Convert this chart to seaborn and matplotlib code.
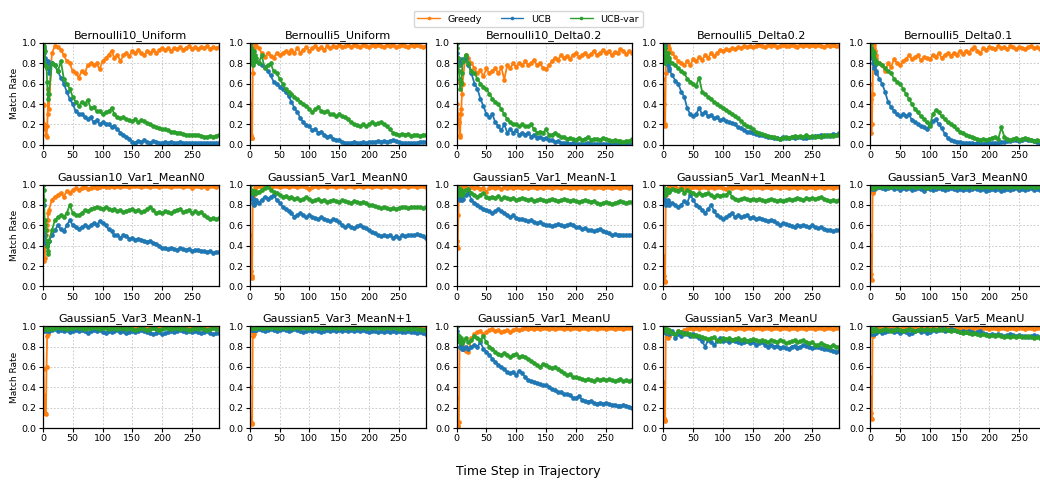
import numpy as np
import pandas as pd
import matplotlib
matplotlib.use("Agg")
import matplotlib.pyplot as plt
import seaborn as sns

# time steps: every step for the first 10, then every 5 steps
steps = list(range(0, 10)) + list(range(10, 296, 5))

methods = ["Greedy", "UCB", "UCB-var"]
colors = ["#ff7f0e", "#1f77b4", "#2ca02c"]

titles = ["Bernoulli10_Uniform", "Bernoulli5_Uniform", "Bernoulli10_Delta0.2",
          "Bernoulli5_Delta0.2", "Bernoulli5_Delta0.1",
          "Gaussian10_Var1_MeanN0", "Gaussian5_Var1_MeanN0", "Gaussian5_Var1_MeanN-1",
          "Gaussian5_Var1_MeanN+1", "Gaussian5_Var3_MeanN0",
          "Gaussian5_Var3_MeanN-1", "Gaussian5_Var3_MeanN+1", "Gaussian5_Var1_MeanU",
          "Gaussian5_Var3_MeanU", "Gaussian5_Var5_MeanU"]

# ---------------- Bernoulli10_Uniform ----------------
b10u_greedy = [0.40, 0.39, 0.20, 0.15, 0.18, 0.10, 0.08, 0.18, 0.30, 0.55,
               0.35, 0.90, 0.97, 0.96, 0.93, 0.88, 0.82, 0.80, 0.72, 0.70,
               0.66, 0.72, 0.70, 0.78, 0.80, 0.78, 0.80, 0.74, 0.82, 0.85,
               0.88, 0.92, 0.85, 0.88, 0.82, 0.88, 0.90, 0.87, 0.92, 0.90,
               0.93, 0.90, 0.88, 0.92, 0.90, 0.93, 0.90, 0.93, 0.95, 0.93,
               0.95, 0.92, 0.95, 0.94, 0.96, 0.93, 0.95, 0.97, 0.94, 0.96,
               0.94, 0.96, 0.95, 0.97, 0.94, 0.96, 0.95, 0.96]
b10u_ucb = [1.00, 0.95, 0.90, 0.85, 0.80, 0.82, 0.78, 0.75, 0.80, 0.82,
            0.70, 0.80, 0.78, 0.72, 0.66, 0.60, 0.52, 0.45, 0.40, 0.33,
            0.30, 0.30, 0.27, 0.25, 0.27, 0.22, 0.24, 0.20, 0.22, 0.20,
            0.20, 0.17, 0.18, 0.15, 0.12, 0.10, 0.08, 0.06, 0.03, 0.02,
            0.04, 0.03, 0.05, 0.03, 0.02, 0.04, 0.03, 0.02, 0.02, 0.03,
            0.02, 0.03, 0.02, 0.02, 0.03, 0.02, 0.02, 0.02, 0.02, 0.02,
            0.02, 0.02, 0.02, 0.02, 0.02, 0.02, 0.02, 0.02]
b10u_ucbvar = [1.00, 0.97, 0.93, 0.92, 0.78, 0.77, 0.76, 0.62, 0.50, 0.45,
               0.50, 0.80, 0.78, 0.72, 0.82, 0.65, 0.60, 0.55, 0.47, 0.42,
               0.38, 0.42, 0.40, 0.44, 0.36, 0.37, 0.33, 0.33, 0.30, 0.32,
               0.33, 0.36, 0.30, 0.27, 0.26, 0.27, 0.25, 0.24, 0.23, 0.25,
               0.22, 0.24, 0.23, 0.21, 0.20, 0.18, 0.17, 0.16, 0.15, 0.15,
               0.14, 0.13, 0.13, 0.12, 0.12, 0.11, 0.10, 0.10, 0.10, 0.10,
               0.10, 0.09, 0.08, 0.08, 0.09, 0.08, 0.09, 0.10]

# ---------------- Bernoulli5_Uniform ----------------
b5u_greedy = [0.80, 0.40, 0.10, 0.07, 0.07, 0.70, 0.90, 0.95, 1.00, 0.98,
              0.97, 0.95, 0.90, 0.86, 0.90, 0.87, 0.85, 0.90, 0.88, 0.90,
              0.92, 0.90, 0.93, 0.90, 0.95, 0.90, 0.93, 0.96, 0.92, 0.95,
              0.97, 0.94, 0.96, 0.93, 0.97, 0.95, 0.97, 0.96, 0.98, 0.96,
              0.97, 0.98, 0.96, 0.98, 0.97, 0.96, 0.98, 0.97, 0.96, 0.98,
              0.97, 0.98, 0.97, 0.96, 0.98, 0.97, 0.98, 0.96, 0.97, 0.98,
              0.97, 0.96, 0.98, 0.97, 0.98, 0.97, 0.96, 0.97]
b5u_ucb = [1.00, 0.98, 0.95, 0.92, 0.90, 0.88, 0.86, 0.85, 0.83, 0.85,
           0.82, 0.80, 0.78, 0.76, 0.72, 0.68, 0.62, 0.60, 0.57, 0.55,
           0.52, 0.48, 0.42, 0.36, 0.32, 0.26, 0.22, 0.19, 0.18, 0.14,
           0.15, 0.12, 0.13, 0.10, 0.08, 0.09, 0.06, 0.05, 0.05, 0.03,
           0.02, 0.02, 0.02, 0.03, 0.02, 0.02, 0.03, 0.02, 0.03, 0.03,
           0.03, 0.04, 0.03, 0.04, 0.03, 0.04, 0.05, 0.04, 0.03, 0.02,
           0.02, 0.02, 0.02, 0.02, 0.02, 0.03, 0.03, 0.03]
b5u_ucbvar = [1.00, 1.00, 0.95, 0.80, 0.90, 0.78, 0.80, 0.92, 0.88, 0.82,
              0.85, 0.80, 0.88, 0.75, 0.78, 0.80, 0.72, 0.70, 0.65, 0.60,
              0.55, 0.52, 0.50, 0.47, 0.45, 0.42, 0.40, 0.38, 0.35, 0.32,
              0.35, 0.37, 0.33, 0.32, 0.33, 0.30, 0.30, 0.28, 0.30, 0.28,
              0.27, 0.25, 0.22, 0.20, 0.19, 0.18, 0.20, 0.18, 0.20, 0.22,
              0.20, 0.21, 0.22, 0.20, 0.18, 0.15, 0.12, 0.11, 0.10, 0.11,
              0.10, 0.11, 0.09, 0.10, 0.10, 0.09, 0.10, 0.10]

# ---------------- Bernoulli10_Delta0.2 ----------------
b10d2_greedy = [0.62, 0.40, 0.30, 0.25, 0.22, 0.08, 0.10, 0.30, 0.35, 0.50,
                0.60, 0.88, 0.85, 0.80, 0.75, 0.70, 0.73, 0.67, 0.75, 0.70,
                0.72, 0.75, 0.70, 0.76, 0.64, 0.78, 0.75, 0.80, 0.76, 0.80,
                0.78, 0.82, 0.78, 0.80, 0.83, 0.78, 0.80, 0.75, 0.74, 0.78,
                0.82, 0.85, 0.83, 0.88, 0.85, 0.87, 0.84, 0.88, 0.90, 0.86,
                0.88, 0.90, 0.87, 0.89, 0.92, 0.88, 0.90, 0.93, 0.90, 0.92,
                0.88, 0.91, 0.90, 0.94, 0.92, 0.89, 0.92, 0.90]
b10d2_ucb = [1.00, 0.90, 0.85, 0.82, 0.80, 0.82, 0.78, 0.80, 0.82, 0.84,
             0.82, 0.85, 0.78, 0.70, 0.60, 0.55, 0.45, 0.38, 0.30, 0.27,
             0.30, 0.22, 0.18, 0.14, 0.20, 0.12, 0.15, 0.12, 0.14, 0.10,
             0.12, 0.10, 0.12, 0.08, 0.10, 0.07, 0.08, 0.06, 0.07, 0.05,
             0.05, 0.03, 0.04, 0.02, 0.02, 0.02, 0.01, 0.02, 0.01, 0.01,
             0.01, 0.01, 0.02, 0.01, 0.01, 0.01, 0.01, 0.01, 0.01, 0.01,
             0.01, 0.01, 0.01, 0.01, 0.01, 0.01, 0.01, 0.01]
b10d2_ucbvar = [1.00, 0.95, 0.85, 0.78, 0.72, 0.65, 0.55, 0.60, 0.62, 0.70,
                0.82, 0.88, 0.80, 0.72, 0.70, 0.65, 0.60, 0.57, 0.55, 0.50,
                0.45, 0.42, 0.40, 0.35, 0.30, 0.25, 0.22, 0.20, 0.20, 0.18,
                0.20, 0.18, 0.18, 0.20, 0.15, 0.12, 0.13, 0.12, 0.15, 0.10,
                0.10, 0.12, 0.10, 0.08, 0.08, 0.06, 0.07, 0.06, 0.05, 0.07,
                0.05, 0.06, 0.08, 0.05, 0.06, 0.06, 0.05, 0.07, 0.06, 0.05,
                0.04, 0.05, 0.04, 0.04, 0.03, 0.04, 0.04, 0.06]

# ---------------- Bernoulli5_Delta0.2 ----------------
b5d2_greedy = [0.65, 0.40, 0.18, 0.20, 0.70, 1.00, 1.00, 0.98, 0.96, 0.95,
               0.93, 0.90, 0.86, 0.82, 0.80, 0.78, 0.82, 0.78, 0.84, 0.82,
               0.86, 0.83, 0.88, 0.85, 0.90, 0.87, 0.90, 0.93, 0.92, 0.94,
               0.93, 0.95, 0.94, 0.96, 0.95, 0.97, 0.96, 0.97, 0.96, 0.97,
               0.98, 0.97, 0.96, 0.98, 0.97, 0.98, 0.96, 0.97, 0.98, 0.97,
               0.97, 0.98, 0.97, 0.96, 0.98, 0.97, 0.98, 0.97, 0.98, 0.97,
               0.98, 0.97, 0.96, 0.98, 0.97, 0.98, 0.97, 0.97]
b5d2_ucb = [1.00, 1.00, 0.98, 0.95, 0.90, 0.85, 0.82, 0.80, 0.78, 0.75,
            0.73, 0.68, 0.63, 0.60, 0.52, 0.47, 0.36, 0.30, 0.28, 0.30,
            0.36, 0.30, 0.32, 0.28, 0.29, 0.26, 0.27, 0.24, 0.25, 0.23,
            0.22, 0.21, 0.20, 0.17, 0.16, 0.14, 0.13, 0.13, 0.12, 0.11,
            0.10, 0.10, 0.09, 0.08, 0.08, 0.07, 0.07, 0.06, 0.08, 0.07,
            0.07, 0.08, 0.07, 0.08, 0.08, 0.07, 0.07, 0.08, 0.08, 0.09,
            0.09, 0.10, 0.09, 0.10, 0.09, 0.11, 0.10, 0.12]
b5d2_ucbvar = [1.00, 1.00, 0.80, 0.95, 0.90, 0.85, 0.88, 0.90, 0.86, 0.85,
               0.82, 0.80, 0.78, 0.75, 0.72, 0.70, 0.65, 0.62, 0.60, 0.58,
               0.66, 0.52, 0.50, 0.47, 0.45, 0.42, 0.40, 0.38, 0.36, 0.34,
               0.32, 0.30, 0.28, 0.26, 0.23, 0.20, 0.18, 0.17, 0.15, 0.13,
               0.12, 0.11, 0.10, 0.09, 0.08, 0.08, 0.07, 0.06, 0.07, 0.08,
               0.07, 0.08, 0.09, 0.08, 0.09, 0.08, 0.10, 0.08, 0.09, 0.08,
               0.09, 0.08, 0.10, 0.09, 0.10, 0.09, 0.10, 0.10]

# ---------------- Bernoulli5_Delta0.1 ----------------
b5d1_greedy = [0.60, 0.45, 0.12, 0.20, 0.50, 0.90, 0.95, 0.98, 0.92, 0.88,
               0.85, 0.80, 0.78, 0.72, 0.80, 0.76, 0.84, 0.80, 0.78, 0.82,
               0.84, 0.88, 0.84, 0.86, 0.88, 0.83, 0.86, 0.85, 0.84, 0.88,
               0.86, 0.90, 0.85, 0.88, 0.90, 0.87, 0.90, 0.88, 0.92, 0.89,
               0.92, 0.90, 0.94, 0.96, 0.92, 0.90, 0.95, 0.93, 0.96, 0.95,
               0.94, 0.97, 0.95, 0.96, 0.94, 0.97, 0.96, 0.94, 0.96, 0.95,
               0.94, 0.96, 0.97, 0.95, 0.96, 0.94, 0.95, 0.93]
b5d1_ucb = [1.00, 0.95, 0.90, 0.85, 0.88, 0.80, 0.75, 0.80, 0.78, 0.70,
            0.72, 0.65, 0.60, 0.52, 0.42, 0.37, 0.33, 0.30, 0.28, 0.30,
            0.28, 0.30, 0.24, 0.22, 0.20, 0.18, 0.17, 0.15, 0.20, 0.23,
            0.25, 0.20, 0.16, 0.11, 0.07, 0.05, 0.04, 0.03, 0.03, 0.02,
            0.02, 0.02, 0.02, 0.01, 0.02, 0.02, 0.01, 0.02, 0.02, 0.02,
            0.02, 0.02, 0.03, 0.03, 0.04, 0.04, 0.05, 0.05, 0.04, 0.05,
            0.06, 0.05, 0.05, 0.04, 0.03, 0.02, 0.02, 0.01]
b5d1_ucbvar = [1.00, 1.00, 0.95, 0.90, 0.88, 0.92, 0.90, 0.85, 0.82, 0.80,
               0.82, 0.80, 0.78, 0.75, 0.72, 0.70, 0.65, 0.62, 0.60, 0.55,
               0.50, 0.45, 0.40, 0.35, 0.32, 0.28, 0.25, 0.22, 0.18, 0.30,
               0.34, 0.32, 0.28, 0.25, 0.22, 0.20, 0.18, 0.15, 0.13, 0.12,
               0.10, 0.09, 0.08, 0.07, 0.06, 0.05, 0.06, 0.05, 0.06, 0.07,
               0.08, 0.06, 0.17, 0.08, 0.06, 0.05, 0.06, 0.07, 0.05, 0.06,
               0.07, 0.06, 0.05, 0.04, 0.05, 0.04, 0.03, 0.03]

# ---------------- Gaussian10_Var1_MeanN0 ----------------
g10v1n0_greedy = [0.60, 0.40, 0.25, 0.28, 0.40, 0.50, 0.55, 0.60, 0.65, 0.72,
                  0.75, 0.85, 0.88, 0.90, 0.92, 0.88, 0.94, 0.92, 0.95, 0.97,
                  0.95, 0.97, 0.98, 0.96, 0.97, 0.98, 0.97, 0.98, 0.99, 0.98,
                  0.98, 0.99, 0.98, 0.99, 0.98, 0.99, 0.99, 0.98, 0.99, 0.99,
                  0.99, 0.98, 0.99, 0.99, 0.98, 0.99, 0.99, 0.98, 0.99, 0.99,
                  0.99, 0.98, 0.99, 0.99, 0.99, 0.98, 0.99, 0.99, 0.97, 0.99,
                  0.99, 0.98, 0.99, 0.97, 0.99, 0.99, 0.98, 0.99]
g10v1n0_ucb = [1.00, 0.80, 0.60, 0.50, 0.45, 0.42, 0.40, 0.42, 0.45, 0.44,
               0.45, 0.50, 0.55, 0.60, 0.56, 0.54, 0.60, 0.65, 0.60, 0.58,
               0.56, 0.58, 0.60, 0.58, 0.60, 0.62, 0.60, 0.64, 0.62, 0.60,
               0.56, 0.54, 0.50, 0.50, 0.48, 0.50, 0.49, 0.47, 0.48, 0.46,
               0.47, 0.46, 0.45, 0.44, 0.45, 0.43, 0.42, 0.40, 0.38, 0.38,
               0.37, 0.38, 0.37, 0.36, 0.38, 0.37, 0.36, 0.37, 0.35, 0.36,
               0.36, 0.35, 0.35, 0.34, 0.35, 0.33, 0.34, 0.34]
g10v1n0_ucbvar = [1.00, 0.95, 0.85, 0.60, 0.65, 0.55, 0.45, 0.40, 0.32, 0.35,
                  0.45, 0.55, 0.65, 0.68, 0.70, 0.68, 0.72, 0.80, 0.72, 0.70,
                  0.70, 0.72, 0.75, 0.74, 0.76, 0.77, 0.78, 0.77, 0.76, 0.78,
                  0.76, 0.75, 0.76, 0.74, 0.75, 0.73, 0.74, 0.75, 0.76, 0.74,
                  0.75, 0.73, 0.74, 0.76, 0.78, 0.75, 0.72, 0.73, 0.72, 0.74,
                  0.73, 0.72, 0.74, 0.75, 0.76, 0.73, 0.74, 0.75, 0.72, 0.74,
                  0.72, 0.73, 0.70, 0.68, 0.66, 0.67, 0.66, 0.67]

# ---------------- Gaussian5_Var1_MeanN0 ----------------
g5v1n0_greedy = [0.95, 0.50, 0.15, 0.08, 0.10, 0.88, 0.85, 0.90, 0.95, 0.98,
                 0.98, 0.99, 0.98, 0.99, 0.99, 0.98, 0.99, 0.99, 0.98, 0.99,
                 0.99, 0.98, 0.99, 0.99, 0.98, 0.99, 0.99, 0.98, 0.96, 0.98,
                 0.99, 0.98, 0.99, 0.99, 0.98, 0.99, 0.99, 0.98, 0.99, 0.99,
                 0.98, 0.99, 0.99, 0.98, 0.99, 0.99, 0.98, 0.99, 0.99, 0.98,
                 0.99, 0.99, 0.98, 0.99, 0.99, 0.98, 0.99, 0.99, 0.98, 0.99,
                 0.99, 0.98, 0.99, 0.99, 0.98, 0.99, 0.99, 0.98]
g5v1n0_ucb = [1.00, 0.95, 0.92, 0.90, 0.88, 0.85, 0.82, 0.80, 0.82, 0.85,
              0.85, 0.82, 0.85, 0.88, 0.86, 0.88, 0.90, 0.85, 0.82, 0.78,
              0.76, 0.74, 0.72, 0.68, 0.70, 0.72, 0.70, 0.68, 0.70, 0.68,
              0.67, 0.66, 0.68, 0.66, 0.65, 0.64, 0.66, 0.65, 0.63, 0.60,
              0.58, 0.60, 0.58, 0.57, 0.59, 0.60, 0.58, 0.57, 0.55, 0.53,
              0.52, 0.50, 0.49, 0.50, 0.49, 0.50, 0.48, 0.49, 0.48, 0.50,
              0.49, 0.50, 0.50, 0.50, 0.51, 0.50, 0.49, 0.48]
g5v1n0_ucbvar = [1.00, 1.00, 0.95, 0.92, 0.93, 0.94, 0.92, 0.93, 0.94, 0.92,
                 0.92, 0.93, 0.95, 0.97, 0.98, 0.95, 0.93, 0.92, 0.90, 0.88,
                 0.89, 0.87, 0.88, 0.86, 0.87, 0.85, 0.86, 0.88, 0.86, 0.84,
                 0.85, 0.86, 0.84, 0.85, 0.83, 0.84, 0.85, 0.84, 0.83, 0.85,
                 0.84, 0.83, 0.82, 0.84, 0.83, 0.82, 0.83, 0.82, 0.80, 0.80,
                 0.79, 0.78, 0.77, 0.78, 0.77, 0.76, 0.77, 0.76, 0.77, 0.78,
                 0.78, 0.77, 0.78, 0.78, 0.78, 0.78, 0.77, 0.78]

# ---------------- Gaussian5_Var1_MeanN-1 ----------------
g5v1nm1_greedy = [0.45, 0.40, 0.38, 0.70, 0.95, 0.90, 0.95, 0.97, 0.98, 0.98,
                  0.97, 0.98, 0.96, 0.98, 0.97, 0.98, 0.96, 0.97, 0.93, 0.97,
                  0.98, 0.97, 0.98, 0.96, 0.98, 0.97, 0.98, 0.97, 0.98, 0.98,
                  0.97, 0.98, 0.97, 0.98, 0.98, 0.97, 0.98, 0.97, 0.98, 0.98,
                  0.97, 0.98, 0.98, 0.97, 0.98, 0.98, 0.97, 0.98, 0.97, 0.98,
                  0.98, 0.97, 0.98, 0.98, 0.97, 0.98, 0.98, 0.97, 0.98, 0.98,
                  0.97, 0.98, 0.98, 0.97, 0.98, 0.98, 0.97, 0.98]
g5v1nm1_ucb = [1.00, 0.95, 0.92, 0.90, 0.88, 0.85, 0.87, 0.88, 0.86, 0.85,
               0.86, 0.90, 0.92, 0.85, 0.82, 0.80, 0.78, 0.76, 0.75, 0.74,
               0.72, 0.74, 0.76, 0.74, 0.72, 0.70, 0.68, 0.70, 0.67, 0.66,
               0.66, 0.65, 0.64, 0.65, 0.63, 0.62, 0.63, 0.61, 0.60, 0.60,
               0.59, 0.60, 0.61, 0.60, 0.59, 0.60, 0.61, 0.60, 0.58, 0.58,
               0.56, 0.57, 0.55, 0.55, 0.54, 0.55, 0.56, 0.54, 0.53, 0.52,
               0.50, 0.51, 0.50, 0.50, 0.50, 0.50, 0.50, 0.50]
g5v1nm1_ucbvar = [1.00, 1.00, 0.95, 0.90, 0.95, 0.96, 0.93, 0.95, 0.92, 0.90,
                  0.92, 0.95, 0.96, 0.92, 0.90, 0.88, 0.90, 0.92, 0.88, 0.87,
                  0.88, 0.87, 0.89, 0.86, 0.88, 0.87, 0.86, 0.87, 0.85, 0.86,
                  0.87, 0.86, 0.85, 0.86, 0.84, 0.85, 0.86, 0.85, 0.84, 0.85,
                  0.86, 0.85, 0.84, 0.85, 0.86, 0.85, 0.84, 0.85, 0.84, 0.83,
                  0.84, 0.85, 0.84, 0.83, 0.84, 0.82, 0.81, 0.82, 0.83, 0.82,
                  0.81, 0.82, 0.83, 0.84, 0.83, 0.82, 0.83, 0.83]

# ---------------- Gaussian5_Var1_MeanN+1 ----------------
g5v1np1_greedy = [0.30, 0.10, 0.04, 0.05, 0.84, 0.90, 0.94, 0.95, 0.97, 0.97,
                  0.98, 0.97, 0.98, 0.96, 0.98, 0.97, 0.98, 0.97, 0.98, 0.98,
                  0.97, 0.98, 0.98, 0.97, 0.98, 0.97, 0.98, 0.98, 0.97, 0.96,
                  0.98, 0.97, 0.98, 0.98, 0.97, 0.98, 0.98, 0.97, 0.98, 0.98,
                  0.98, 0.97, 0.98, 0.98, 0.97, 0.98, 0.98, 0.97, 0.98, 0.98,
                  0.97, 0.98, 0.98, 0.97, 0.98, 0.98, 0.97, 0.98, 0.98, 0.97,
                  0.98, 0.98, 0.97, 0.98, 0.98, 0.97, 0.98, 0.98]
g5v1np1_ucb = [1.00, 0.95, 0.90, 0.85, 0.82, 0.80, 0.82, 0.85, 0.83, 0.82,
               0.80, 0.82, 0.80, 0.78, 0.80, 0.84, 0.82, 0.90, 0.85, 0.80,
               0.78, 0.75, 0.72, 0.76, 0.80, 0.74, 0.70, 0.68, 0.66, 0.68,
               0.70, 0.72, 0.68, 0.70, 0.68, 0.69, 0.70, 0.67, 0.68, 0.66,
               0.67, 0.66, 0.65, 0.64, 0.65, 0.64, 0.62, 0.60, 0.62, 0.61,
               0.60, 0.59, 0.58, 0.60, 0.59, 0.60, 0.59, 0.58, 0.60, 0.58,
               0.57, 0.58, 0.56, 0.55, 0.55, 0.54, 0.55, 0.55]
g5v1np1_ucbvar = [1.00, 0.95, 0.90, 0.95, 0.92, 0.96, 0.95, 0.93, 0.95, 0.94,
                  0.93, 0.96, 0.95, 0.94, 0.96, 0.92, 0.95, 0.93, 0.92, 0.90,
                  0.92, 0.90, 0.91, 0.92, 0.90, 0.88, 0.90, 0.89, 0.90, 0.90,
                  0.93, 0.88, 0.86, 0.85, 0.86, 0.87, 0.86, 0.85, 0.86, 0.85,
                  0.86, 0.85, 0.84, 0.85, 0.86, 0.85, 0.84, 0.85, 0.84, 0.85,
                  0.86, 0.85, 0.86, 0.87, 0.86, 0.85, 0.87, 0.86, 0.87, 0.86,
                  0.87, 0.88, 0.86, 0.85, 0.84, 0.85, 0.84, 0.85]

# ---------------- Gaussian5_Var3_MeanN0 ----------------
g5v3n0_greedy = [0.50, 0.12, 0.07, 0.06, 0.93, 0.92, 0.95, 0.96, 0.97, 0.98,
                 0.99, 0.98, 0.99, 0.99, 0.99, 0.98, 0.99, 0.99, 0.99, 0.99,
                 0.98, 0.99, 0.99, 0.99, 0.99, 0.98, 0.99, 0.99, 0.99, 0.99,
                 0.99, 0.98, 0.99, 0.99, 0.99, 0.99, 0.98, 0.99, 0.99, 0.99,
                 0.99, 0.99, 0.98, 0.99, 0.99, 0.99, 0.99, 0.98, 0.99, 0.99,
                 0.99, 0.99, 0.99, 0.98, 0.99, 0.99, 0.99, 0.99, 0.98, 0.99,
                 0.99, 0.99, 0.99, 0.98, 0.99, 0.99, 0.99, 0.99]
g5v3n0_ucb = [1.00, 0.98, 0.97, 0.96, 0.97, 0.98, 0.97, 0.96, 0.97, 0.98,
              0.97, 0.98, 0.97, 0.96, 0.97, 0.98, 0.96, 0.97, 0.95, 0.97,
              0.96, 0.97, 0.95, 0.96, 0.97, 0.96, 0.94, 0.97, 0.96, 0.95,
              0.96, 0.97, 0.96, 0.95, 0.96, 0.97, 0.96, 0.95, 0.96, 0.95,
              0.96, 0.95, 0.96, 0.97, 0.96, 0.95, 0.96, 0.94, 0.95, 0.96,
              0.95, 0.96, 0.94, 0.95, 0.96, 0.95, 0.96, 0.97, 0.95, 0.96,
              0.95, 0.96, 0.97, 0.95, 0.96, 0.95, 0.96, 0.95]
g5v3n0_ucbvar = [1.00, 0.98, 0.97, 0.98, 0.99, 0.98, 0.97, 0.98, 0.99, 0.98,
                 0.98, 0.99, 0.98, 0.99, 0.98, 0.98, 0.99, 0.98, 0.98, 0.99,
                 0.98, 0.98, 0.99, 0.98, 0.98, 0.99, 0.98, 0.97, 0.98, 0.99,
                 0.98, 0.98, 0.99, 0.98, 0.98, 0.99, 0.98, 0.98, 0.99, 0.98,
                 0.98, 0.99, 0.98, 0.98, 0.99, 0.98, 0.98, 0.99, 0.98, 0.98,
                 0.99, 0.98, 0.98, 0.99, 0.98, 0.98, 0.99, 0.98, 0.98, 0.99,
                 0.98, 0.98, 0.99, 0.98, 0.98, 0.99, 0.98, 0.98]

# ---------------- Gaussian5_Var3_MeanN-1 ----------------
g5v3nm1_greedy = [0.95, 0.58, 0.32, 0.15, 0.15, 0.14, 0.60, 0.90, 0.92, 0.95,
                  0.95, 0.97, 0.98, 0.99, 0.98, 0.99, 0.99, 0.98, 0.99, 0.99,
                  0.99, 0.98, 0.99, 0.99, 0.99, 0.98, 0.99, 0.99, 0.99, 0.99,
                  0.98, 0.99, 0.99, 0.99, 0.98, 0.99, 0.99, 0.99, 0.98, 0.99,
                  0.99, 0.99, 0.98, 0.99, 0.99, 0.99, 0.99, 0.98, 0.99, 0.99,
                  0.99, 0.98, 0.99, 0.99, 0.99, 0.98, 0.99, 0.99, 0.99, 0.99,
                  0.98, 0.99, 0.99, 0.99, 0.98, 0.99, 0.99, 0.99]
g5v3nm1_ucb = [1.00, 0.98, 0.97, 0.96, 0.95, 0.96, 0.97, 0.96, 0.95, 0.96,
               0.95, 0.96, 0.97, 0.95, 0.96, 0.95, 0.96, 0.94, 0.95, 0.96,
               0.95, 0.96, 0.95, 0.93, 0.95, 0.96, 0.95, 0.96, 0.94, 0.93,
               0.95, 0.94, 0.95, 0.96, 0.94, 0.95, 0.93, 0.94, 0.95, 0.94,
               0.95, 0.96, 0.95, 0.94, 0.93, 0.92, 0.93, 0.94, 0.92, 0.93,
               0.94, 0.95, 0.94, 0.95, 0.96, 0.95, 0.94, 0.95, 0.94, 0.95,
               0.94, 0.93, 0.94, 0.95, 0.93, 0.92, 0.93, 0.93]
g5v3nm1_ucbvar = [1.00, 0.98, 0.97, 0.98, 0.99, 0.98, 0.97, 0.98, 0.97, 0.98,
                  0.98, 0.97, 0.98, 0.99, 0.98, 0.98, 0.97, 0.98, 0.98, 0.99,
                  0.98, 0.98, 0.97, 0.98, 0.98, 0.99, 0.98, 0.97, 0.98, 0.98,
                  0.97, 0.98, 0.98, 0.97, 0.98, 0.98, 0.97, 0.98, 0.97, 0.96,
                  0.97, 0.98, 0.97, 0.96, 0.97, 0.98, 0.97, 0.96, 0.97, 0.98,
                  0.98, 0.97, 0.98, 0.98, 0.97, 0.98, 0.97, 0.96, 0.97, 0.98,
                  0.97, 0.98, 0.97, 0.96, 0.97, 0.98, 0.97, 0.97]

# ---------------- Gaussian5_Var3_MeanN+1 ----------------
g5v3np1_greedy = [0.40, 0.10, 0.05, 0.05, 0.04, 0.90, 0.93, 0.92, 0.95, 0.96,
                  0.97, 0.98, 0.99, 0.99, 0.98, 0.99, 0.99, 0.99, 0.98, 0.99,
                  0.99, 0.99, 0.99, 0.98, 0.99, 0.99, 0.99, 0.99, 0.99, 0.98,
                  0.99, 0.99, 0.99, 0.99, 0.98, 0.99, 0.99, 0.99, 0.99, 0.99,
                  0.98, 0.99, 0.99, 0.99, 0.99, 0.99, 0.98, 0.99, 0.99, 0.99,
                  0.99, 0.99, 0.98, 0.99, 0.99, 0.99, 0.99, 0.99, 0.98, 0.99,
                  0.99, 0.99, 0.99, 0.98, 0.99, 0.99, 0.99, 0.99]
g5v3np1_ucb = [1.00, 0.98, 0.97, 0.96, 0.97, 0.96, 0.97, 0.96, 0.97, 0.96,
               0.96, 0.97, 0.96, 0.95, 0.96, 0.97, 0.96, 0.95, 0.96, 0.97,
               0.96, 0.95, 0.96, 0.97, 0.96, 0.95, 0.94, 0.95, 0.96, 0.95,
               0.96, 0.95, 0.94, 0.95, 0.96, 0.95, 0.96, 0.95, 0.96, 0.95,
               0.96, 0.95, 0.96, 0.95, 0.96, 0.95, 0.96, 0.95, 0.94, 0.95,
               0.95, 0.94, 0.95, 0.94, 0.95, 0.94, 0.95, 0.94, 0.95, 0.94,
               0.94, 0.95, 0.94, 0.94, 0.93, 0.94, 0.93, 0.92]
g5v3np1_ucbvar = [1.00, 0.98, 0.99, 0.98, 0.99, 0.98, 0.98, 0.99, 0.98, 0.99,
                  0.98, 0.99, 0.98, 0.98, 0.99, 0.98, 0.99, 0.98, 0.98, 0.99,
                  0.98, 0.99, 0.98, 0.98, 0.99, 0.98, 0.99, 0.98, 0.98, 0.99,
                  0.98, 0.99, 0.98, 0.98, 0.99, 0.98, 0.99, 0.98, 0.98, 0.99,
                  0.98, 0.99, 0.98, 0.98, 0.99, 0.98, 0.99, 0.98, 0.98, 0.99,
                  0.98, 0.99, 0.98, 0.98, 0.99, 0.98, 0.99, 0.98, 0.97, 0.98,
                  0.97, 0.98, 0.97, 0.98, 0.97, 0.97, 0.96, 0.97]

# ---------------- Gaussian5_Var1_MeanU ----------------
g5v1u_greedy = [0.30, 0.05, 0.02, 0.02, 0.06, 0.80, 0.85, 0.83, 0.80, 0.82,
                0.78, 0.76, 0.75, 0.88, 0.92, 0.94, 0.95, 0.92, 0.94, 0.96,
                0.97, 0.95, 0.96, 0.94, 0.95, 0.96, 0.94, 0.96, 0.97, 0.96,
                0.97, 0.98, 0.97, 0.98, 0.97, 0.98, 0.97, 0.98, 0.98, 0.97,
                0.98, 0.97, 0.98, 0.98, 0.97, 0.98, 0.97, 0.98, 0.98, 0.97,
                0.98, 0.98, 0.97, 0.98, 0.98, 0.97, 0.98, 0.98, 0.97, 0.98,
                0.98, 0.97, 0.98, 0.98, 0.97, 0.98, 0.98, 0.98]
g5v1u_ucb = [1.00, 0.95, 0.90, 0.85, 0.88, 0.85, 0.80, 0.82, 0.80, 0.78,
             0.78, 0.80, 0.78, 0.80, 0.82, 0.80, 0.84, 0.78, 0.75, 0.72,
             0.68, 0.65, 0.62, 0.60, 0.58, 0.55, 0.54, 0.55, 0.52, 0.56,
             0.54, 0.50, 0.47, 0.46, 0.45, 0.44, 0.43, 0.42, 0.42, 0.40,
             0.38, 0.37, 0.35, 0.35, 0.33, 0.33, 0.32, 0.30, 0.30, 0.31,
             0.28, 0.27, 0.26, 0.27, 0.25, 0.24, 0.25, 0.24, 0.25, 0.24,
             0.23, 0.23, 0.22, 0.22, 0.23, 0.22, 0.21, 0.20]
g5v1u_ucbvar = [1.00, 0.92, 0.88, 0.85, 0.90, 0.86, 0.84, 0.88, 0.85, 0.83,
                0.85, 0.88, 0.84, 0.86, 0.90, 0.88, 0.86, 0.90, 0.84, 0.80,
                0.78, 0.75, 0.73, 0.72, 0.74, 0.72, 0.70, 0.72, 0.73, 0.70,
                0.71, 0.70, 0.68, 0.66, 0.64, 0.62, 0.60, 0.63, 0.62, 0.60,
                0.59, 0.60, 0.58, 0.56, 0.54, 0.52, 0.53, 0.50, 0.50, 0.49,
                0.48, 0.47, 0.48, 0.47, 0.46, 0.48, 0.47, 0.48, 0.47, 0.48,
                0.47, 0.46, 0.47, 0.48, 0.46, 0.47, 0.46, 0.47]

# ---------------- Gaussian5_Var3_MeanU ----------------
g5v3u_greedy = [0.45, 0.10, 0.07, 0.08, 0.95, 0.93, 0.90, 0.92, 0.88, 0.90,
                0.90, 0.93, 0.92, 0.95, 0.94, 0.96, 0.97, 0.98, 0.97, 0.98,
                0.97, 0.98, 0.98, 0.97, 0.98, 0.98, 0.97, 0.98, 0.98, 0.97,
                0.98, 0.98, 0.97, 0.98, 0.98, 0.97, 0.98, 0.98, 0.97, 0.98,
                0.98, 0.97, 0.98, 0.98, 0.97, 0.98, 0.98, 0.97, 0.98, 0.98,
                0.97, 0.98, 0.98, 0.97, 0.98, 0.98, 0.97, 0.98, 0.98, 0.97,
                0.98, 0.98, 0.97, 0.98, 0.98, 0.97, 0.98, 0.98]
g5v3u_ucb = [1.00, 0.98, 0.96, 0.95, 0.94, 0.93, 0.95, 0.96, 0.94, 0.93,
             0.92, 0.95, 0.88, 0.92, 0.90, 0.93, 0.92, 0.90, 0.92, 0.90,
             0.88, 0.85, 0.80, 0.86, 0.84, 0.82, 0.85, 0.88, 0.85, 0.86,
             0.84, 0.86, 0.85, 0.84, 0.83, 0.84, 0.85, 0.83, 0.84, 0.82,
             0.83, 0.84, 0.82, 0.80, 0.82, 0.80, 0.81, 0.79, 0.80, 0.79,
             0.78, 0.80, 0.81, 0.79, 0.80, 0.82, 0.81, 0.80, 0.79, 0.80,
             0.80, 0.79, 0.78, 0.78, 0.77, 0.76, 0.75, 0.76]
g5v3u_ucbvar = [1.00, 0.98, 0.97, 0.96, 0.95, 0.96, 0.97, 0.95, 0.94, 0.96,
                0.95, 0.93, 0.92, 0.95, 0.94, 0.92, 0.93, 0.92, 0.90, 0.91,
                0.90, 0.89, 0.88, 0.87, 0.88, 0.89, 0.86, 0.85, 0.88, 0.87,
                0.88, 0.86, 0.87, 0.88, 0.86, 0.87, 0.85, 0.86, 0.87, 0.86,
                0.85, 0.86, 0.85, 0.84, 0.86, 0.85, 0.84, 0.86, 0.85, 0.83,
                0.84, 0.85, 0.86, 0.84, 0.85, 0.86, 0.84, 0.83, 0.84, 0.82,
                0.82, 0.83, 0.82, 0.81, 0.80, 0.82, 0.80, 0.80]

# ---------------- Gaussian5_Var5_MeanU ----------------
g5v5u_greedy = [0.50, 0.15, 0.10, 0.09, 0.90, 0.92, 0.95, 0.94, 0.96, 0.97,
                0.97, 0.98, 0.97, 0.98, 0.98, 0.97, 0.98, 0.98, 0.97, 0.98,
                0.98, 0.97, 0.98, 0.98, 0.97, 0.98, 0.98, 0.97, 0.98, 0.98,
                0.97, 0.98, 0.98, 0.97, 0.98, 0.98, 0.97, 0.98, 0.98, 0.97,
                0.98, 0.98, 0.97, 0.98, 0.98, 0.97, 0.98, 0.98, 0.97, 0.98,
                0.98, 0.97, 0.98, 0.98, 0.97, 0.98, 0.98, 0.97, 0.98, 0.98,
                0.97, 0.98, 0.98, 0.97, 0.98, 0.98, 0.97, 0.98]
g5v5u_ucb = [1.00, 0.95, 0.93, 0.92, 0.94, 0.93, 0.92, 0.94, 0.95, 0.93,
             0.94, 0.95, 0.93, 0.94, 0.95, 0.96, 0.94, 0.95, 0.93, 0.95,
             0.94, 0.92, 0.93, 0.95, 0.96, 0.94, 0.95, 0.93, 0.94, 0.96,
             0.95, 0.96, 0.97, 0.95, 0.96, 0.97, 0.96, 0.95, 0.94, 0.95,
             0.94, 0.95, 0.94, 0.93, 0.94, 0.95, 0.93, 0.92, 0.91, 0.92,
             0.91, 0.92, 0.91, 0.90, 0.91, 0.92, 0.91, 0.90, 0.91, 0.90,
             0.90, 0.89, 0.90, 0.91, 0.90, 0.89, 0.88, 0.88]
g5v5u_ucbvar = [1.00, 0.97, 0.95, 0.96, 0.95, 0.96, 0.97, 0.95, 0.96, 0.97,
                0.96, 0.95, 0.96, 0.97, 0.96, 0.95, 0.96, 0.97, 0.96, 0.95,
                0.96, 0.97, 0.96, 0.95, 0.96, 0.97, 0.96, 0.97, 0.96, 0.97,
                0.96, 0.97, 0.96, 0.97, 0.96, 0.95, 0.96, 0.95, 0.94, 0.93,
                0.94, 0.93, 0.92, 0.93, 0.92, 0.91, 0.92, 0.91, 0.90, 0.91,
                0.90, 0.91, 0.90, 0.89, 0.90, 0.89, 0.90, 0.89, 0.90, 0.89,
                0.89, 0.90, 0.89, 0.88, 0.89, 0.88, 0.87, 0.87]

series = [
    (b10u_greedy, b10u_ucb, b10u_ucbvar),
    (b5u_greedy, b5u_ucb, b5u_ucbvar),
    (b10d2_greedy, b10d2_ucb, b10d2_ucbvar),
    (b5d2_greedy, b5d2_ucb, b5d2_ucbvar),
    (b5d1_greedy, b5d1_ucb, b5d1_ucbvar),
    (g10v1n0_greedy, g10v1n0_ucb, g10v1n0_ucbvar),
    (g5v1n0_greedy, g5v1n0_ucb, g5v1n0_ucbvar),
    (g5v1nm1_greedy, g5v1nm1_ucb, g5v1nm1_ucbvar),
    (g5v1np1_greedy, g5v1np1_ucb, g5v1np1_ucbvar),
    (g5v3n0_greedy, g5v3n0_ucb, g5v3n0_ucbvar),
    (g5v3nm1_greedy, g5v3nm1_ucb, g5v3nm1_ucbvar),
    (g5v3np1_greedy, g5v3np1_ucb, g5v3np1_ucbvar),
    (g5v1u_greedy, g5v1u_ucb, g5v1u_ucbvar),
    (g5v3u_greedy, g5v3u_ucb, g5v3u_ucbvar),
    (g5v5u_greedy, g5v5u_ucb, g5v5u_ucbvar),
]

rows = []
for title, trio in zip(titles, series):
    for m, vals in zip(methods, trio):
        assert len(vals) == len(steps), (title, m, len(vals))
        for s, v in zip(steps, vals):
            rows.append((title, m, s, v))
df = pd.DataFrame(rows, columns=["env", "method", "step", "rate"])

sns.set_theme(style="ticks")
plt.rcParams["font.family"] = ["DejaVu Sans"]
plt.rcParams["text.color"] = "black"
plt.rcParams["xtick.color"] = "black"
plt.rcParams["ytick.color"] = "black"
plt.rcParams["axes.labelcolor"] = "black"

fig, axes = plt.subplots(3, 5, figsize=(10.4, 4.87), dpi=100)
fig.subplots_adjust(left=0.0413, right=1.0058, bottom=0.121, top=0.912,
                    wspace=0.176, hspace=0.39)
palette = dict(zip(methods, colors))

MS = 3.4
LW = 1.3
for i, (ax, title) in enumerate(zip(axes.flat, titles)):
    sub = df[df["env"] == title]
    sns.lineplot(data=sub, x="step", y="rate", hue="method", hue_order=methods,
                 palette=palette, marker="o", markersize=MS, markeredgewidth=0,
                 linewidth=LW, errorbar=None, legend=False, ax=ax)
    ax.set_xlim(0, 295)
    ax.set_ylim(0, 1)
    ax.set_xticks([0, 50, 100, 150, 200, 250])
    ax.set_yticks([0.0, 0.2, 0.4, 0.6, 0.8, 1.0])
    ax.set_yticklabels(["0.0", "0.2", "0.4", "0.6", "0.8", "1.0"])
    ax.tick_params(labelsize=6.8, length=3, width=0.8, pad=1.5)
    ax.grid(True, linestyle=(0, (2.5, 2.5)), linewidth=0.5, color="#b8b8b8")
    ax.set_axisbelow(True)
    ax.set_title(title, fontsize=8, pad=3.5)
    ax.set_xlabel("")
    if i % 5 == 0:
        ax.set_ylabel("Match Rate", fontsize=6.5, labelpad=2)
    else:
        ax.set_ylabel("")
    for sp in ax.spines.values():
        sp.set_color("black")
        sp.set_linewidth(0.9)

from matplotlib.lines import Line2D
handles = [Line2D([0], [0], color=c, marker="o", markersize=2.6, markeredgewidth=0,
                  linewidth=1.0) for c in colors]
fig.legend(handles, methods, loc="upper center", bbox_to_anchor=(528 / 1040, 1 - 6 / 487),
           ncol=3, fontsize=6.8, frameon=True, handlelength=2.4, columnspacing=2.0,
           borderpad=0.4, fancybox=True, edgecolor="#cccccc")
fig.text(528 / 1040, 1 - 472 / 487, "Time Step in Trajectory", ha="center", va="center",
         fontsize=9)

fig.savefig("out.png", dpi=100)
